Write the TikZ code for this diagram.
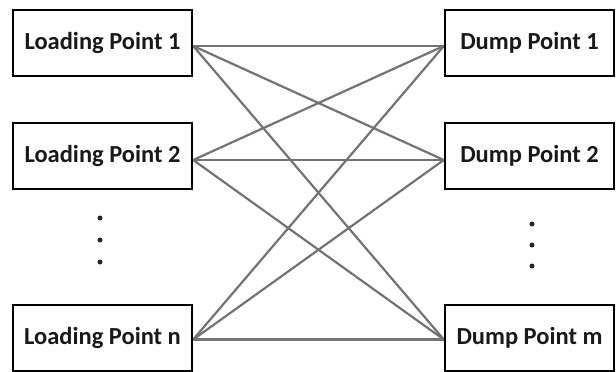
\documentclass[tikz,border=0pt]{standalone}
\usepackage{fontspec}
\setmainfont{Carlito}
\usetikzlibrary{backgrounds}
\begin{document}
\begin{tikzpicture}[x=1pt,y=-1pt,
  pointbox/.style={draw=black,line width=2.4pt,fill=white,minimum width=179pt,minimum height=66pt,
    inner sep=0pt,text=black!90,font=\fontsize{24.5}{28}\selectfont\bfseries},
  dumpbox/.style={pointbox,minimum width=169pt},
  link/.style={draw=black!55,line width=2.2pt},
  vdot/.style={circle,fill=black!85,inner sep=0pt,minimum size=5pt}]
\useasboundingbox (0,0) rectangle (616,372);
% loading points (left column)
\node[pointbox] (l1) at (102.5,43) {Loading Point 1};
\node[pointbox] (l2) at (102.5,156) {Loading Point 2};
\node[pointbox] (ln) at (102.5,338) {Loading Point n};
% dump points (right column)
\node[dumpbox] (d1) at (529.5,43) {Dump Point 1};
\node[dumpbox] (d2) at (529.5,156) {Dump Point 2};
\node[dumpbox] (dm) at (529.5,338) {Dump Point m};
% attachment points on the box edges
\coordinate (a1) at ([yshift=-3pt]l1.east);
\coordinate (a2) at ([yshift=-4pt]l2.east);
\coordinate (an) at ([yshift=-1.5pt]ln.east);
\coordinate (b1) at ([yshift=-3pt]d1.west);
\coordinate (b2) at ([yshift=-4pt]d2.west);
\coordinate (bm) at ([yshift=-1.5pt]dm.west);
% every loading point connects to every dump point
\begin{scope}[on background layer]
\foreach \a in {a1,a2,an}
  \foreach \b in {b1,b2,bm}
    \draw[link] (\a) -- (\b);
\end{scope}
% ellipsis dots
\node[vdot] (p1) at (100,218) {};
\node[vdot] (p2) at (100,240) {};
\node[vdot] (p3) at (100,262) {};
\node[vdot] (q1) at (532,224) {};
\node[vdot] (q2) at (532,245) {};
\node[vdot] (q3) at (532,266) {};
\end{tikzpicture}
\end{document}
